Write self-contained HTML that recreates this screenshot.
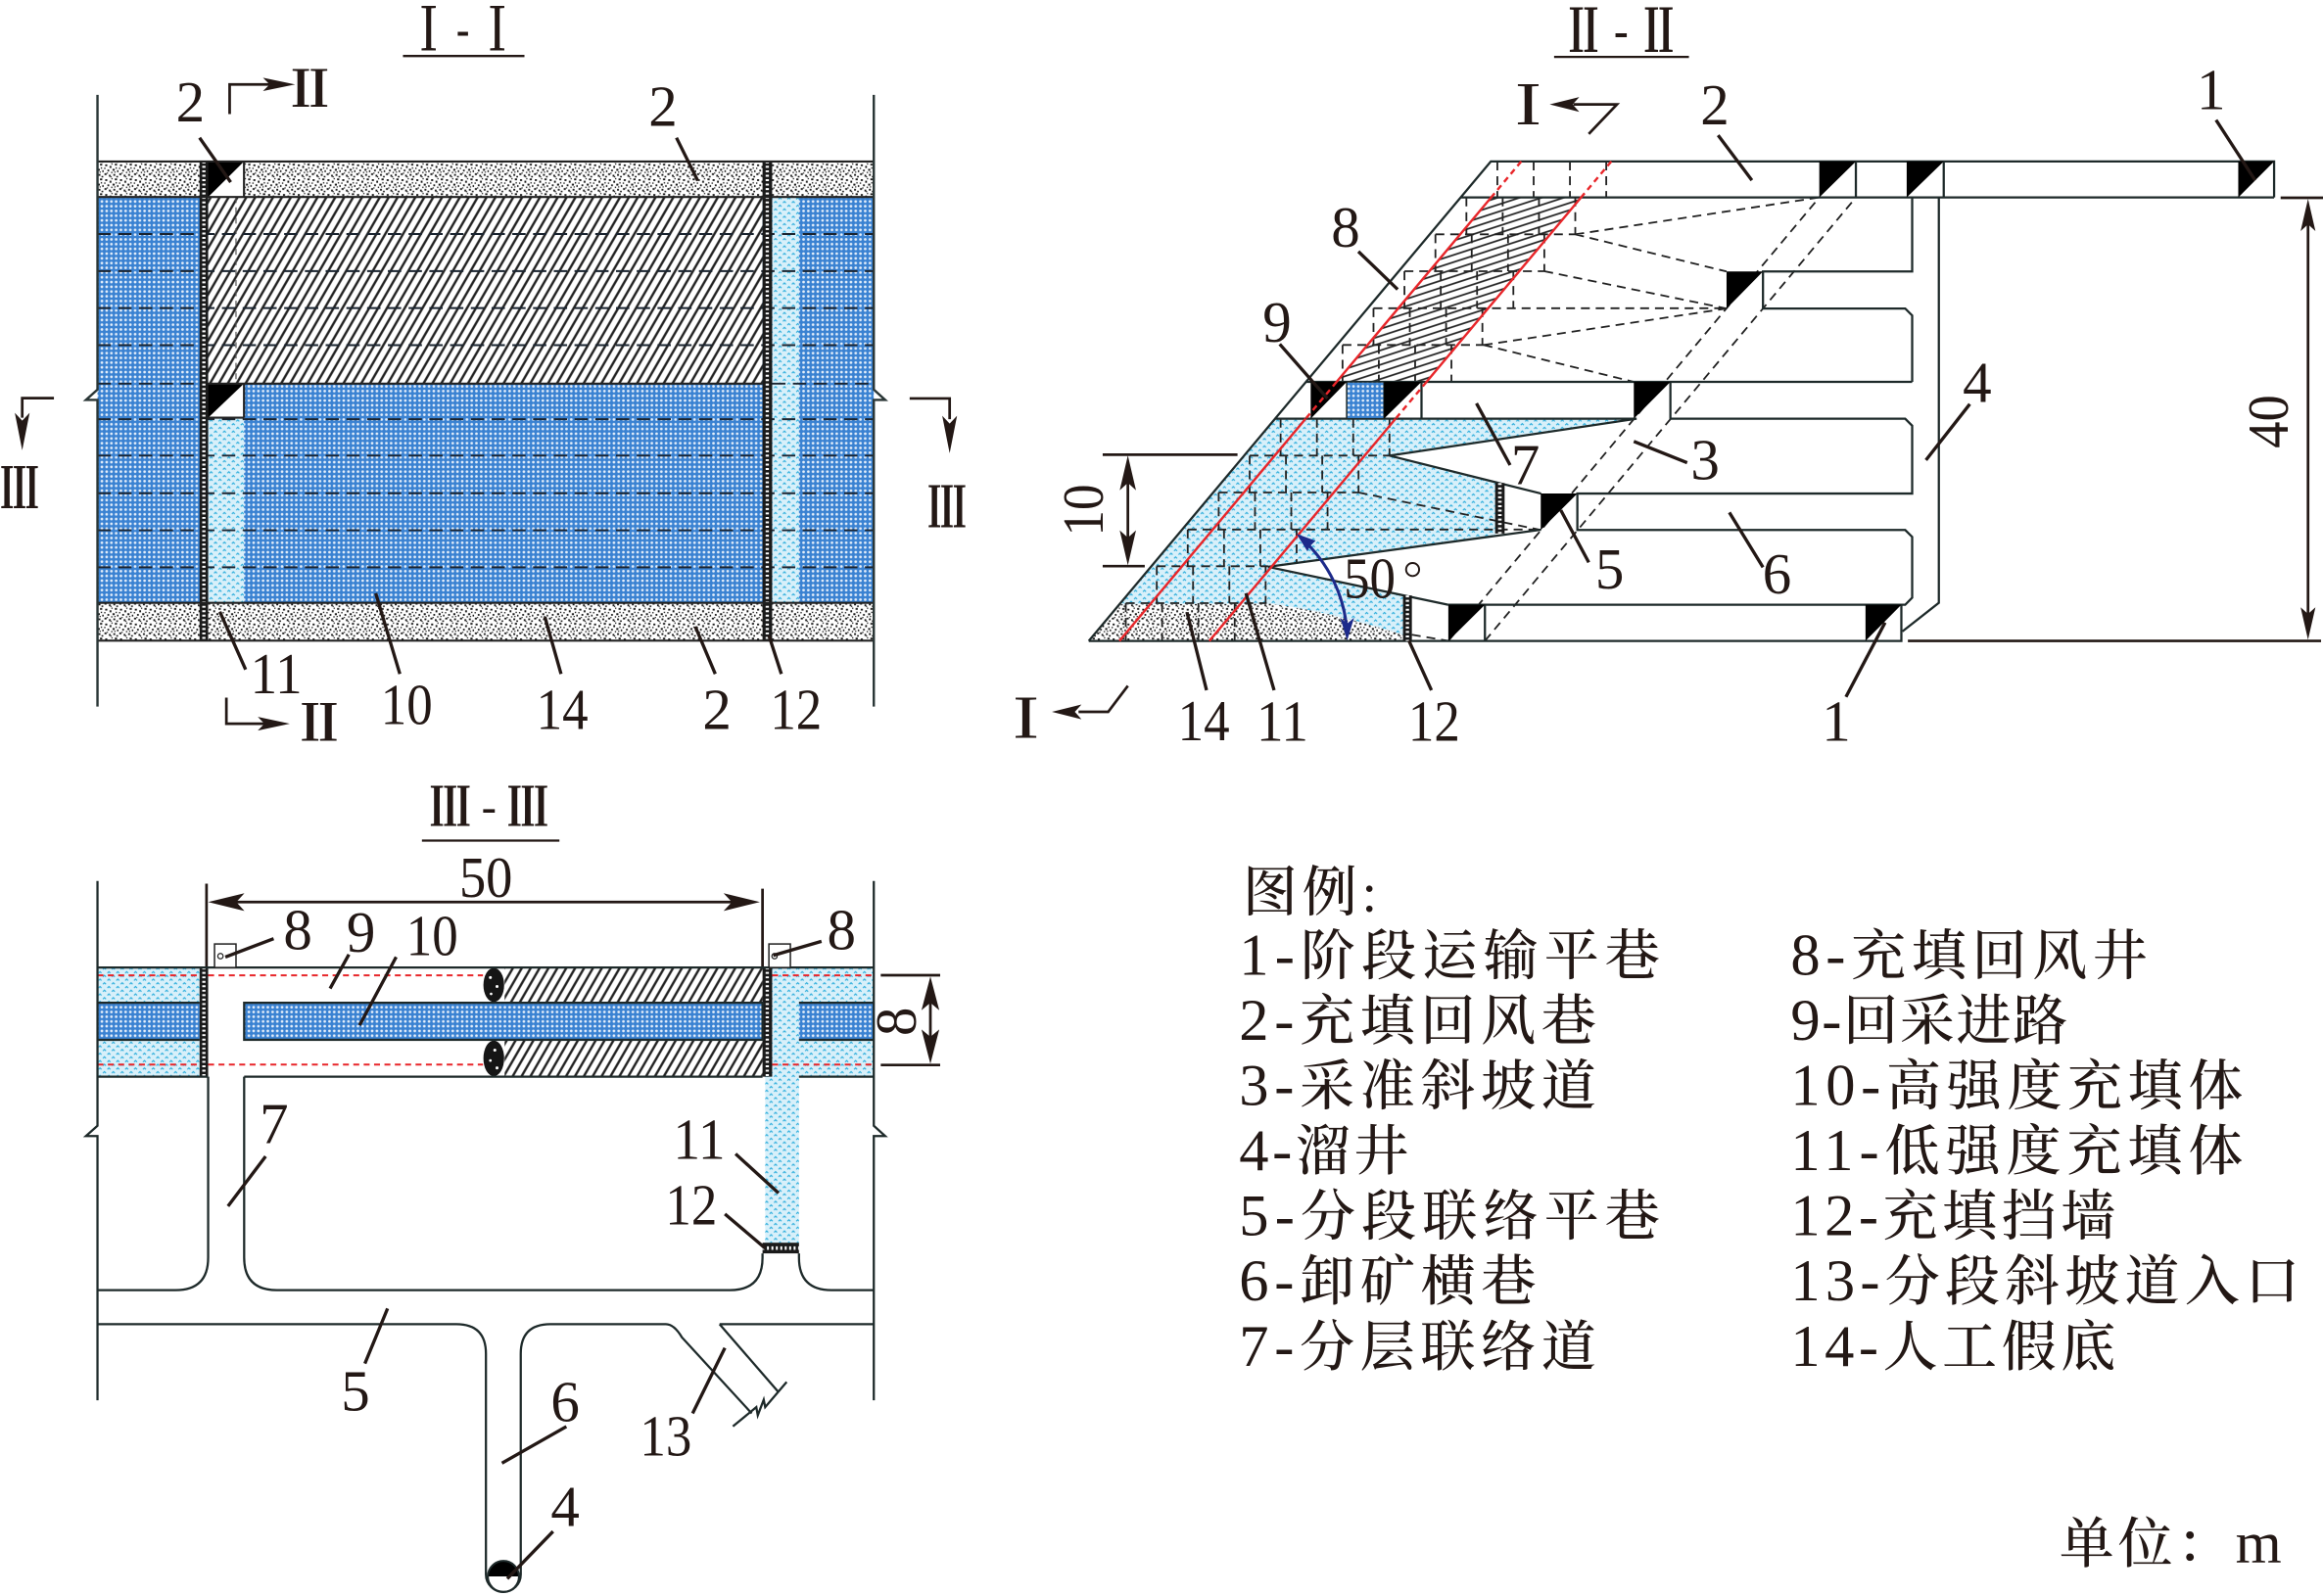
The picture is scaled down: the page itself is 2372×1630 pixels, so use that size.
<!DOCTYPE html>
<html><head><meta charset="utf-8">
<style>
html,body{margin:0;padding:0;background:#fff;}
svg{display:block;}
.t{font-family:"Liberation Serif","Noto Serif CJK SC",serif;fill:#231815;}
.r{font-family:"Noto Serif CJK SC","Liberation Serif",serif;fill:#231815;font-weight:bold;}
.lg{font-family:"Liberation Serif","Noto Serif CJK SC",serif;fill:#231815;font-size:37px;font-weight:500;}
.lg tspan{font-weight:normal;}
</style></head><body>
<svg xmlns="http://www.w3.org/2000/svg" width="2372" height="1630" viewBox="0 0 1568 1077.5">
<defs>
<pattern id="pb" width="3.2" height="3.2" patternUnits="userSpaceOnUse">
<rect width="3.2" height="3.2" fill="#3a82d2"/>
<circle cx="1.6" cy="1.6" r="0.9" fill="#e4eefa"/>
</pattern>
<pattern id="pc" width="6" height="5" patternUnits="userSpaceOnUse">
<rect width="6" height="5" fill="#d8f0fa"/>
<path d="M0.5,2 L1.5,1 L2.5,2 M3.5,4.5 L4.5,3.5 L5.5,4.5" stroke="#2eaedc" stroke-width="0.8" fill="none"/>
</pattern>
<pattern id="pg" width="10" height="10" patternUnits="userSpaceOnUse">
<rect width="10" height="10" fill="#fff"/>
<g fill="#151515">
<rect x="1" y="1" width="1.4" height="1.2"/><rect x="4" y="2" width="1.2" height="1.4"/><rect x="7.5" y="0.5" width="1.5" height="1.2"/>
<rect x="2.5" y="4.5" width="1.2" height="1.2"/><rect x="6" y="4" width="1.4" height="1.3"/><rect x="9" y="5" width="1" height="1.2"/>
<rect x="0.5" y="7" width="1.4" height="1.2"/><rect x="3.5" y="8" width="1.2" height="1.3"/><rect x="6.5" y="7.5" width="1.3" height="1.2"/>
<rect x="8.5" y="8.8" width="1.2" height="1"/><rect x="5" y="6" width="0.9" height="0.9"/><rect x="2" y="6.5" width="0.8" height="0.8"/>
<rect x="8" y="3" width="0.9" height="0.9"/><rect x="0.3" y="3.2" width="0.9" height="0.9"/><rect x="5.2" y="0.2" width="0.8" height="0.9"/>
<rect x="4.5" y="9" width="0.8" height="0.8"/><rect x="7.2" y="5.8" width="0.8" height="0.8"/>
</g>
</pattern>
<pattern id="ph1" width="5.2" height="20" patternUnits="userSpaceOnUse" patternTransform="rotate(30)">
<rect width="5.2" height="20" fill="#fff"/>
<line x1="2.6" y1="0" x2="2.6" y2="20" stroke="#222" stroke-width="1.6"/>
</pattern>
<pattern id="ph2" width="20" height="4.6" patternUnits="userSpaceOnUse" patternTransform="rotate(-18)">
<rect width="20" height="4.6" fill="#fff"/>
<line x1="0" y1="2.3" x2="20" y2="2.3" stroke="#222" stroke-width="1.2"/>
</pattern>
</defs>

<!-- ================= I - I ================= -->
<text class="r" x="277" y="34" font-size="40" textLength="71" lengthAdjust="spacingAndGlyphs">Ⅰ - Ⅰ</text>
<line x1="272" y1="37.8" x2="354" y2="37.8" stroke="#231815" stroke-width="1.5"/>

<rect x="65.8" y="133" width="524" height="274" fill="url(#pb)"/>
<rect x="140.5" y="133" width="374.2" height="126" fill="url(#ph1)"/>
<rect x="140.5" y="282" width="24.2" height="125" fill="url(#pc)"/>
<rect x="521.2" y="133" width="18.1" height="274" fill="url(#pc)"/>
<rect x="65.8" y="109" width="524" height="24" fill="url(#pg)"/>
<rect x="65.8" y="407" width="524" height="25.5" fill="url(#pg)"/>
<path d="M65.8,158H589.8M65.8,183H589.8M65.8,208H589.8M65.8,233H589.8M65.8,259H134.7M521.2,259H589.8M65.8,283H589.8M65.8,307.6H589.8M65.8,333H589.8M65.8,358H589.8M65.8,383H589.8" stroke="#1a2430" stroke-width="1.3" stroke-dasharray="9 5" fill="none"/>
<line x1="159.3" y1="133" x2="159.3" y2="259" stroke="#555" stroke-width="0.8" stroke-dasharray="4 3"/>
<!-- walls -->
<rect x="134.7" y="109" width="5.8" height="323.5" fill="#1a1a1a"/>
<line x1="137.6" y1="109" x2="137.6" y2="432.5" stroke="#fff" stroke-width="2.2" stroke-dasharray="1.3 1.7"/>
<rect x="514.7" y="109" width="6.5" height="323.5" fill="#1a1a1a"/>
<line x1="517.9" y1="109" x2="517.9" y2="432.5" stroke="#fff" stroke-width="2.2" stroke-dasharray="1.3 1.7"/>
<!-- markers -->
<rect x="140.5" y="109" width="24.2" height="24" fill="#fff"/>
<polygon points="140.5,109 164.7,109 140.5,133" fill="#000"/>
<rect x="140.5" y="259" width="24.2" height="23" fill="#fff"/>
<polygon points="140.5,259 164.7,259 140.5,282" fill="#000"/>
<path d="M65.8,109H589.8M65.8,133H589.8M65.8,407H589.8M65.8,432.5H589.8M140.5,259H514.7M140.5,282H164.7M164.7,109V133M164.7,259V282" stroke="#222" stroke-width="1.4" fill="none"/>
<path d="M65.8,64V263L58,270H65.8V477M589.8,64V263L597.5,270H589.8V477" stroke="#2a3636" stroke-width="1.6" fill="none"/>
<!-- section arrows -->
<path d="M155,77V57H182M152.8,471V488.6H180" stroke="#231815" stroke-width="1.8" fill="none"/>
<polygon points="199.2,57 177.5,52.5 182,57 177.5,61.5" fill="#231815"/>
<polygon points="195.6,488.6 174,484 178.5,488.6 174,493.2" fill="#231815"/>
<text class="r" x="209.2" y="72" font-size="34" text-anchor="middle">Ⅱ</text>
<text class="r" x="215.5" y="500" font-size="34" text-anchor="middle">Ⅱ</text>
<path d="M36.4,268.8H15V282M614,269H641V283" stroke="#231815" stroke-width="1.8" fill="none"/>
<polygon points="15,304 10,278.7 15,284 20,278.7" fill="#231815"/>
<polygon points="641,306 636,280.7 641,286 646,280.7" fill="#231815"/>
<text class="r" x="0" y="343" font-size="38" textLength="26.4" lengthAdjust="spacingAndGlyphs">Ⅲ</text>
<text class="r" x="626" y="356" font-size="38" textLength="26.4" lengthAdjust="spacingAndGlyphs">Ⅲ</text>
<!-- leaders -->
<path d="M134.7,93L155.7,123M456.6,93L471,122M148.4,413L165.8,452M253.6,400.5L269.9,455M367.8,416.5L378.7,455M469.3,423L482.8,455M519,429L527.4,455" stroke="#231815" stroke-width="2.2" fill="none"/>
<g class="t" font-size="39" text-anchor="middle">
<text x="128.5" y="82">2</text>
<text x="447.5" y="85">2</text>
<text x="186.5" y="468" textLength="35" lengthAdjust="spacingAndGlyphs">11</text>
<text x="274.5" y="489" textLength="35" lengthAdjust="spacingAndGlyphs">10</text>
<text x="379.5" y="492" textLength="35" lengthAdjust="spacingAndGlyphs">14</text>
<text x="484" y="492">2</text>
<text x="537.3" y="492" textLength="35" lengthAdjust="spacingAndGlyphs">12</text>
</g>

<!-- ================= II - II ================= -->
<text class="r" x="1055.4" y="35" font-size="40" textLength="77.8" lengthAdjust="spacingAndGlyphs">Ⅱ - Ⅱ</text>
<line x1="1049" y1="38.4" x2="1140" y2="38.4" stroke="#231815" stroke-width="1.5"/>

<path d="M734.9,432.7 L860.7,282.7 L1104.7,282.7 L937.8,307.6 L1009.2,325.4 L1009.2,361.8 L856,382.7 L947,402 L947,432.7 Z" fill="url(#pc)"/>
<path d="M734.9,432.7 L755.6,408 L858,407.6 C890,412 920,420 947,428.5 L947,432.7 Z" fill="url(#pg)"/>
<path d="M1006.5,133.3 L1067.2,133.3 L962.9,257.8 L902.2,257.8 Z" fill="url(#ph2)"/>

<g stroke="#222" stroke-width="1.2" stroke-dasharray="6 4" fill="none">
<path d="M1010.7,109V133.3M1035.2,109V133.3M1059.7,109V133.3M1084.2,109V133.3
M989.8,133.3V158.2M1014.3,133.3V158.2M1038.8,133.3V158.2M1063.3,133.3V158.2
M968.9,158.2V183.1M993.4,158.2V183.1M1017.9,158.2V183.1M1042.4,158.2V183.1
M948,183.1V208.1M972.5,183.1V208.1M997,183.1V208.1M1021.5,183.1V208.1
M927.1,208.1V232.9M951.6,208.1V232.9M976.1,208.1V232.9M1000.6,208.1V232.9
M906.2,232.9V257.8M930.7,232.9V257.8M955.2,232.9V257.8M979.7,232.9V257.8
M864.4,282.7V307.6M888.9,282.7V307.6M913.4,282.7V307.6M937.9,282.7V307.6
M843.5,307.6V332.5M868,307.6V332.5M892.5,307.6V332.5M917,307.6V332.5
M822.6,332.5V357.5M847.1,332.5V357.5M871.6,332.5V357.5M896.1,332.5V357.5
M801.7,357.5V382.3M826.2,357.5V382.3M850.7,357.5V382.3M875.2,357.5V380
M780.8,382.3V407.2M805.3,382.3V407.2M829.8,382.3V407.2M854.3,382.3V407.2
M759.9,407.2V432.7M784.4,407.2V432.7M808.9,407.2V432.7M833.4,407.2V432.7"/>
<path d="M968.9,158.2H1063.3M948,183.1H1042.4M927.1,208.1H1165.4M906.2,232.9H1001.5M843.5,307.6H937.9M822.6,332.5H917M801.7,357.5H1040M780.8,382.3H856M759.9,407.2H855"/>
<path d="M1063.3,158.2L1228,133.3M1063.3,158.2L1165.4,183.3M1042.4,183.1L1165.4,208.3M1001.5,232.9L1165.4,208.3M1001.5,232.9L1102.8,257.8M917,332.5L1040,357.8M953,428.5L977.6,432.7"/>
<path d="M977.6,432.7L1228,133.3M1002.3,432.7L1252.7,133.3"/>
</g>

<!-- solid outlines -->
<g stroke="#1e2a2a" stroke-width="1.5" fill="none">
<path d="M734.9,432.7L1006.3,109H1535V133.3M986,133.3H1535"/>
<path d="M1290.7,133.3V183.3H1190V208.3H1286L1290.7,213V257.8"/>
<path d="M881.6,257.8H1290.7"/>
<path d="M860.7,282.7H1104.7L937.8,307.6L1040.2,333.2"/>
<path d="M1127.5,257.8V282.7H1286L1290.7,287.4V333.2H1064.7V357.8H1286L1290.7,362.5V403.5L1286,408.3H977.4"/>
<path d="M1040.2,357.6L856,382.7L977.4,408.3"/>
<path d="M734.9,432.7H1283.4V408.3"/>
<path d="M1308.7,133.3V407L1284.1,426.3"/>
<path d="M1252.7,109V133.3M1312,109V133.3M1002.3,408.3V432.7M959.5,257.8V282.7"/>
</g>
<!-- blue square -->
<rect x="909" y="257.8" width="25.2" height="24.9" fill="url(#pb)" stroke="#1e2a2a" stroke-width="1"/>
<!-- markers -->
<g fill="#000">
<polygon points="1228,109 1252.7,109 1228,133.3"/>
<polygon points="1287,109 1312,109 1287,133.3"/>
<polygon points="1510.8,109 1535,109 1510.8,133.3"/>
<polygon points="1165.4,183.3 1190,183.3 1165.4,208.3"/>
<polygon points="1102.8,257.8 1127.5,257.8 1102.8,282.7"/>
<polygon points="1040,333.2 1064.7,333.2 1040,357.8"/>
<polygon points="977.6,408.3 1002.3,408.3 977.6,432.7"/>
<polygon points="1259.2,408.3 1283.4,408.3 1259.2,432.7"/>
<polygon points="884.7,257.8 909,257.8 884.7,282.7"/>
<polygon points="934.2,257.8 959.5,257.8 934.2,282.7"/>
</g>
<!-- fill walls -->
<rect x="1009.2" y="326.1" width="6.4" height="34.1" fill="#1a1a1a"/>
<line x1="1012.4" y1="326.1" x2="1012.4" y2="360.2" stroke="#fff" stroke-width="2.4" stroke-dasharray="1.3 1.7"/>
<rect x="947" y="402" width="6" height="30.7" fill="#1a1a1a"/>
<line x1="950" y1="402" x2="950" y2="432.7" stroke="#fff" stroke-width="2.2" stroke-dasharray="1.3 1.7"/>
<!-- red lines -->
<g stroke="#e8262a" stroke-width="1.6" fill="none">
<path d="M1006.5,133.3L902.2,257.8M881.3,282.7L755.6,432.7M1067.2,133.3L962.9,257.8M942,282.7L816.3,432.7"/>
<path d="M1026.8,109L1006.5,133.3M902.2,257.8L881.3,282.7M1087.6,109L1067.2,133.3M962.9,257.8L942,282.7" stroke-dasharray="4 3"/>
</g>
<!-- angle arc -->
<path d="M909.3,428 A93,93 0 0,0 878,363" stroke="#1d2a8a" stroke-width="2" fill="none"/>
<polygon points="909.3,432.5 904.6,417 909.3,421 914,417" fill="#1d2a8a"/>
<polygon points="875.1,360.4 888,365.1 884.3,368.6 882.4,372.1" fill="#1d2a8a"/>
<!-- dimension 10 -->
<path d="M744.3,307H835.3M744.3,382.2H772.7M761.3,320V370" stroke="#231815" stroke-width="1.8" fill="none"/>
<polygon points="761.3,307.5 755.8,331 761.3,326 766.8,331" fill="#231815"/>
<polygon points="761.3,381.7 755.8,358 761.3,363 766.8,358" fill="#231815"/>
<text class="t" transform="translate(744.3,344.4) rotate(-90)" font-size="39" text-anchor="middle" textLength="35" lengthAdjust="spacingAndGlyphs">10</text>
<!-- dimension 40 -->
<path d="M1539.4,133.5H1568M1287.8,432.7H1566.7M1557.9,145V421" stroke="#231815" stroke-width="1.8" fill="none"/>
<polygon points="1557.9,134.3 1552.9,156 1557.9,151.5 1562.9,156" fill="#231815"/>
<polygon points="1557.9,431.9 1552.9,410 1557.9,414.5 1562.9,410" fill="#231815"/>
<text class="t" transform="translate(1544.2,284.6) rotate(-90)" font-size="39" text-anchor="middle" textLength="36" lengthAdjust="spacingAndGlyphs">40</text>
<!-- section I arrows -->
<path d="M1072.4,90.4L1091.4,70.5H1062M761.3,463L748,480.6H728" stroke="#231815" stroke-width="1.8" fill="none"/>
<polygon points="1046,70.5 1066,65.5 1061.5,70.5 1066,75.5" fill="#231815"/>
<polygon points="710,480.6 730,475.6 725.5,480.6 730,485.6" fill="#231815"/>
<text class="r" x="1031.5" y="84" font-size="36" text-anchor="middle">Ⅰ</text>
<text class="r" x="692.5" y="498" font-size="36" text-anchor="middle">Ⅰ</text>
<!-- leaders II-II -->
<path d="M1159.7,91.3L1182.5,121.7M1495.8,81L1522.2,121.7M1246,470.5L1272.4,420.3M1329.6,272.8L1300,310.6M916.9,169.8L943.4,195.4M863.8,232.3L896,269M996.6,272.3L1019.3,314M1102.8,298L1138.8,312.4M1053.5,344.4L1072.4,379.7M1167.3,346L1190,383M814.4,466L801.2,413.3M860,466L841,400.5M966.2,466L951,432.5" stroke="#231815" stroke-width="2.2" fill="none"/>
<g class="t" font-size="39" text-anchor="middle">
<text x="1157.5" y="84">2</text>
<text x="1492.5" y="73.6">1</text>
<text x="1239.5" y="500">1</text>
<text x="1334.6" y="271.3">4</text>
<text x="908.3" y="166.6">8</text>
<text x="862" y="230.7">9</text>
<text x="1029.7" y="326.8">7</text>
<text x="1151" y="323.6">3</text>
<text x="1086.5" y="397.3">5</text>
<text x="1199.5" y="400.5">6</text>
<text x="924.5" y="403.7" textLength="35" lengthAdjust="spacingAndGlyphs">50</text>
<text x="812.5" y="499.8" textLength="35" lengthAdjust="spacingAndGlyphs">14</text>
<text x="865.6" y="500" textLength="35" lengthAdjust="spacingAndGlyphs">11</text>
<text x="968" y="500" textLength="35" lengthAdjust="spacingAndGlyphs">12</text>
</g>
<circle cx="953.5" cy="384.5" r="4.4" stroke="#231815" stroke-width="1.3" fill="none"/>

<!-- ================= III - III ================= -->
<text class="r" x="289.9" y="557.6" font-size="36" textLength="80.4" lengthAdjust="spacingAndGlyphs">Ⅲ - Ⅲ</text>
<line x1="284.8" y1="567.5" x2="377.6" y2="567.5" stroke="#231815" stroke-width="1.5"/>
<text class="t" x="328" y="605.4" font-size="39" text-anchor="middle" textLength="36" lengthAdjust="spacingAndGlyphs">50</text>
<path d="M152,609H501M139.4,596.6V653.2M514.7,600V653.2" stroke="#231815" stroke-width="1.8" fill="none"/>
<polygon points="140.5,609 165,603 159.5,609 165,615" fill="#231815"/>
<polygon points="512.9,609 488.4,603 494,609 488.4,615" fill="#231815"/>

<!-- band fills -->
<rect x="65.8" y="653.2" width="68.9" height="73.7" fill="url(#pc)"/>
<rect x="65.8" y="677" width="68.9" height="25" fill="url(#pb)"/>
<rect x="164.8" y="677" width="349.9" height="25" fill="url(#pb)"/>
<rect x="340.6" y="653.2" width="174.1" height="23.8" fill="url(#ph1)"/>
<rect x="340.6" y="702" width="174.1" height="24.9" fill="url(#ph1)"/>
<rect x="521.2" y="653.2" width="68.6" height="73.7" fill="url(#pc)"/>
<rect x="539.3" y="677" width="50.5" height="25" fill="url(#pb)"/>
<rect x="516.5" y="726" width="22.8" height="113" fill="url(#pc)"/>
<!-- red dashed -->
<path d="M65.8,658.5H134.7M140.5,658.5H326M521.2,658.5H589.8M65.8,718.7H134.7M140.5,718.7H326M521.2,718.7H589.8" stroke="#e8262a" stroke-width="1.3" stroke-dasharray="4 3" fill="none"/>
<!-- rubble -->
<g fill="#151515">
<ellipse cx="333.3" cy="665" rx="7" ry="11.5"/>
<ellipse cx="333.3" cy="714.5" rx="7" ry="12"/>
</g>
<g fill="#fff">
<circle cx="331" cy="660" r="1"/><circle cx="335.5" cy="666" r="1"/><circle cx="331.5" cy="671" r="0.9"/>
<circle cx="334" cy="709" r="1"/><circle cx="331" cy="716" r="0.9"/><circle cx="335.5" cy="721" r="1"/>
</g>
<!-- walls -->
<rect x="134.7" y="653.2" width="5.8" height="73.7" fill="#1a1a1a"/>
<line x1="137.6" y1="653.2" x2="137.6" y2="726.9" stroke="#fff" stroke-width="2.2" stroke-dasharray="1.3 1.7"/>
<rect x="514.7" y="653.2" width="6.5" height="73.7" fill="#1a1a1a"/>
<line x1="517.9" y1="653.2" x2="517.9" y2="726.9" stroke="#fff" stroke-width="2.2" stroke-dasharray="1.3 1.7"/>
<rect x="514.7" y="839" width="24.6" height="7.2" fill="#1a1a1a"/>
<line x1="514.7" y1="842.6" x2="539.3" y2="842.6" stroke="#fff" stroke-width="2.4" stroke-dasharray="1.3 1.7"/>
<!-- outlines -->
<g stroke="#1e2a2a" stroke-width="1.5" fill="none">
<path d="M65.8,653.2H589.8M65.8,726.9H140.5M164.8,726.9H514.7M539.3,726.9H589.8"/>
<path d="M65.8,677H134.7M65.8,702H134.7M539.3,677H589.8M539.3,702H589.8"/>
<rect x="164.8" y="677" width="349.9" height="25"/>
<path d="M140.5,726.9V849Q140.5,871 118.5,871H65.8"/>
<path d="M164.8,726.9V849Q164.8,871 186.8,871H492.7Q514.7,871 514.7,849V846.2"/>
<path d="M539.3,846.2V849Q539.3,871 561.3,871H589.8"/>
<path d="M65.8,894H308Q328,894 328,914V1063A11.75,11.75 0 0,0 351.5,1063V914Q351.5,894 371.5,894H449.4Q455,894 460.3,902.9L507.4,954.2"/>
<path d="M485.7,894H589.8M485.7,894L525.6,940"/>
<path d="M494.7,963L510.5,950L511.5,955.5L515.5,945L516.5,950L531,933"/>
<path d="M65.8,594.8V760L58,767H65.8V945.4M589.8,594.8V760L597.5,767H589.8V945.4"/>
</g>
<!-- ore pass circle -->
<path d="M329.3,1064.3A10.5,10.5 0 0,1 350.3,1064.3Z" fill="#000"/>
<circle cx="339.8" cy="1064.3" r="10.5" fill="none" stroke="#1e2a2a" stroke-width="1.3"/>
<!-- 8 markers -->
<rect x="144.8" y="637.3" width="14.5" height="15.9" fill="#fff" stroke="#222" stroke-width="1"/>
<circle cx="148.8" cy="645.5" r="1.8" fill="none" stroke="#222" stroke-width="0.8"/>
<rect x="519" y="637.3" width="14.5" height="15.9" fill="#fff" stroke="#222" stroke-width="1"/>
<circle cx="522.8" cy="645.5" r="1.8" fill="none" stroke="#222" stroke-width="0.8"/>
<!-- dim 8 -->
<path d="M594.5,658.4H634.6M594.5,719H634.6M628,672V705" stroke="#231815" stroke-width="1.8" fill="none"/>
<polygon points="628,659.2 622,682 628,677 634,682" fill="#231815"/>
<polygon points="628,718.2 622,695 628,700 634,695" fill="#231815"/>
<text class="t" transform="translate(618,689.7) rotate(-90)" font-size="39" text-anchor="middle">8</text>
<!-- leaders III-III -->
<path d="M152.1,646.1L184.7,633.7M222.8,667.4L235.5,644.4M242.7,692.2L267.4,646.1M521.9,645L554.5,635.5M179.3,780.7L153.9,814.3M496.5,779L525.5,805.5M489.3,819.6L516.5,842.7M261.6,883.4L246.3,920.6M382.3,963.1L338.8,987.8M467.5,954.2L489.3,910M373.3,1033.9L342.4,1065.8" stroke="#231815" stroke-width="2.2" fill="none"/>
<g class="t" font-size="39" text-anchor="middle">
<text x="201" y="640.8">8</text>
<text x="243.7" y="642.6">9</text>
<text x="291.7" y="645" textLength="35" lengthAdjust="spacingAndGlyphs">10</text>
<text x="568" y="640.8">8</text>
<text x="185" y="771.8">7</text>
<text x="472" y="782.5" textLength="35" lengthAdjust="spacingAndGlyphs">11</text>
<text x="466.6" y="826.7" textLength="35" lengthAdjust="spacingAndGlyphs">12</text>
<text x="240" y="952.4">5</text>
<text x="381.5" y="959.5">6</text>
<text x="449.4" y="982.5" textLength="35" lengthAdjust="spacingAndGlyphs">13</text>
<text x="381.5" y="1030.3">4</text>
</g>

<!-- ================= Legend ================= -->
<text class="lg" x="838.8" y="615" textLength="90.7" lengthAdjust="spacing">图例:</text>
<text class="lg" x="836.4" y="658" textLength="284" lengthAdjust="spacing"><tspan font-size="40">1-</tspan>阶段运输平巷</text>
<text class="lg" x="836.4" y="702" textLength="241" lengthAdjust="spacing"><tspan font-size="40">2-</tspan>充填回风巷</text>
<text class="lg" x="836.4" y="746" textLength="241" lengthAdjust="spacing"><tspan font-size="40">3-</tspan>采准斜坡道</text>
<text class="lg" x="836.4" y="790" textLength="114.5" lengthAdjust="spacing"><tspan font-size="40">4-</tspan>溜井</text>
<text class="lg" x="836.4" y="834" textLength="284" lengthAdjust="spacing"><tspan font-size="40">5-</tspan>分段联络平巷</text>
<text class="lg" x="836.4" y="878" textLength="200.4" lengthAdjust="spacing"><tspan font-size="40">6-</tspan>卸矿横巷</text>
<text class="lg" x="836.4" y="922" textLength="241" lengthAdjust="spacing"><tspan font-size="40">7-</tspan>分层联络道</text>
<text class="lg" x="1208.6" y="658" textLength="241" lengthAdjust="spacing"><tspan font-size="40">8-</tspan>充填回风井</text>
<text class="lg" x="1208.6" y="702" textLength="187" lengthAdjust="spacing"><tspan font-size="40">9-</tspan>回采进路</text>
<text class="lg" x="1208.6" y="746" textLength="305.4" lengthAdjust="spacing"><tspan font-size="40">10-</tspan>高强度充填体</text>
<text class="lg" x="1208.6" y="790" textLength="305.4" lengthAdjust="spacing"><tspan font-size="40">11-</tspan>低强度充填体</text>
<text class="lg" x="1208.6" y="834" textLength="219.4" lengthAdjust="spacing"><tspan font-size="40">12-</tspan>充填挡墙</text>
<text class="lg" x="1208.6" y="878" textLength="343.6" lengthAdjust="spacing"><tspan font-size="40">13-</tspan>分段斜坡道入口</text>
<text class="lg" x="1208.6" y="922" textLength="219.4" lengthAdjust="spacing"><tspan font-size="40">14-</tspan>人工假底</text>
<text class="lg" x="1390" y="1055" textLength="150" lengthAdjust="spacing">单位：<tspan font-size="40">m</tspan></text>
</svg>
</body></html>
